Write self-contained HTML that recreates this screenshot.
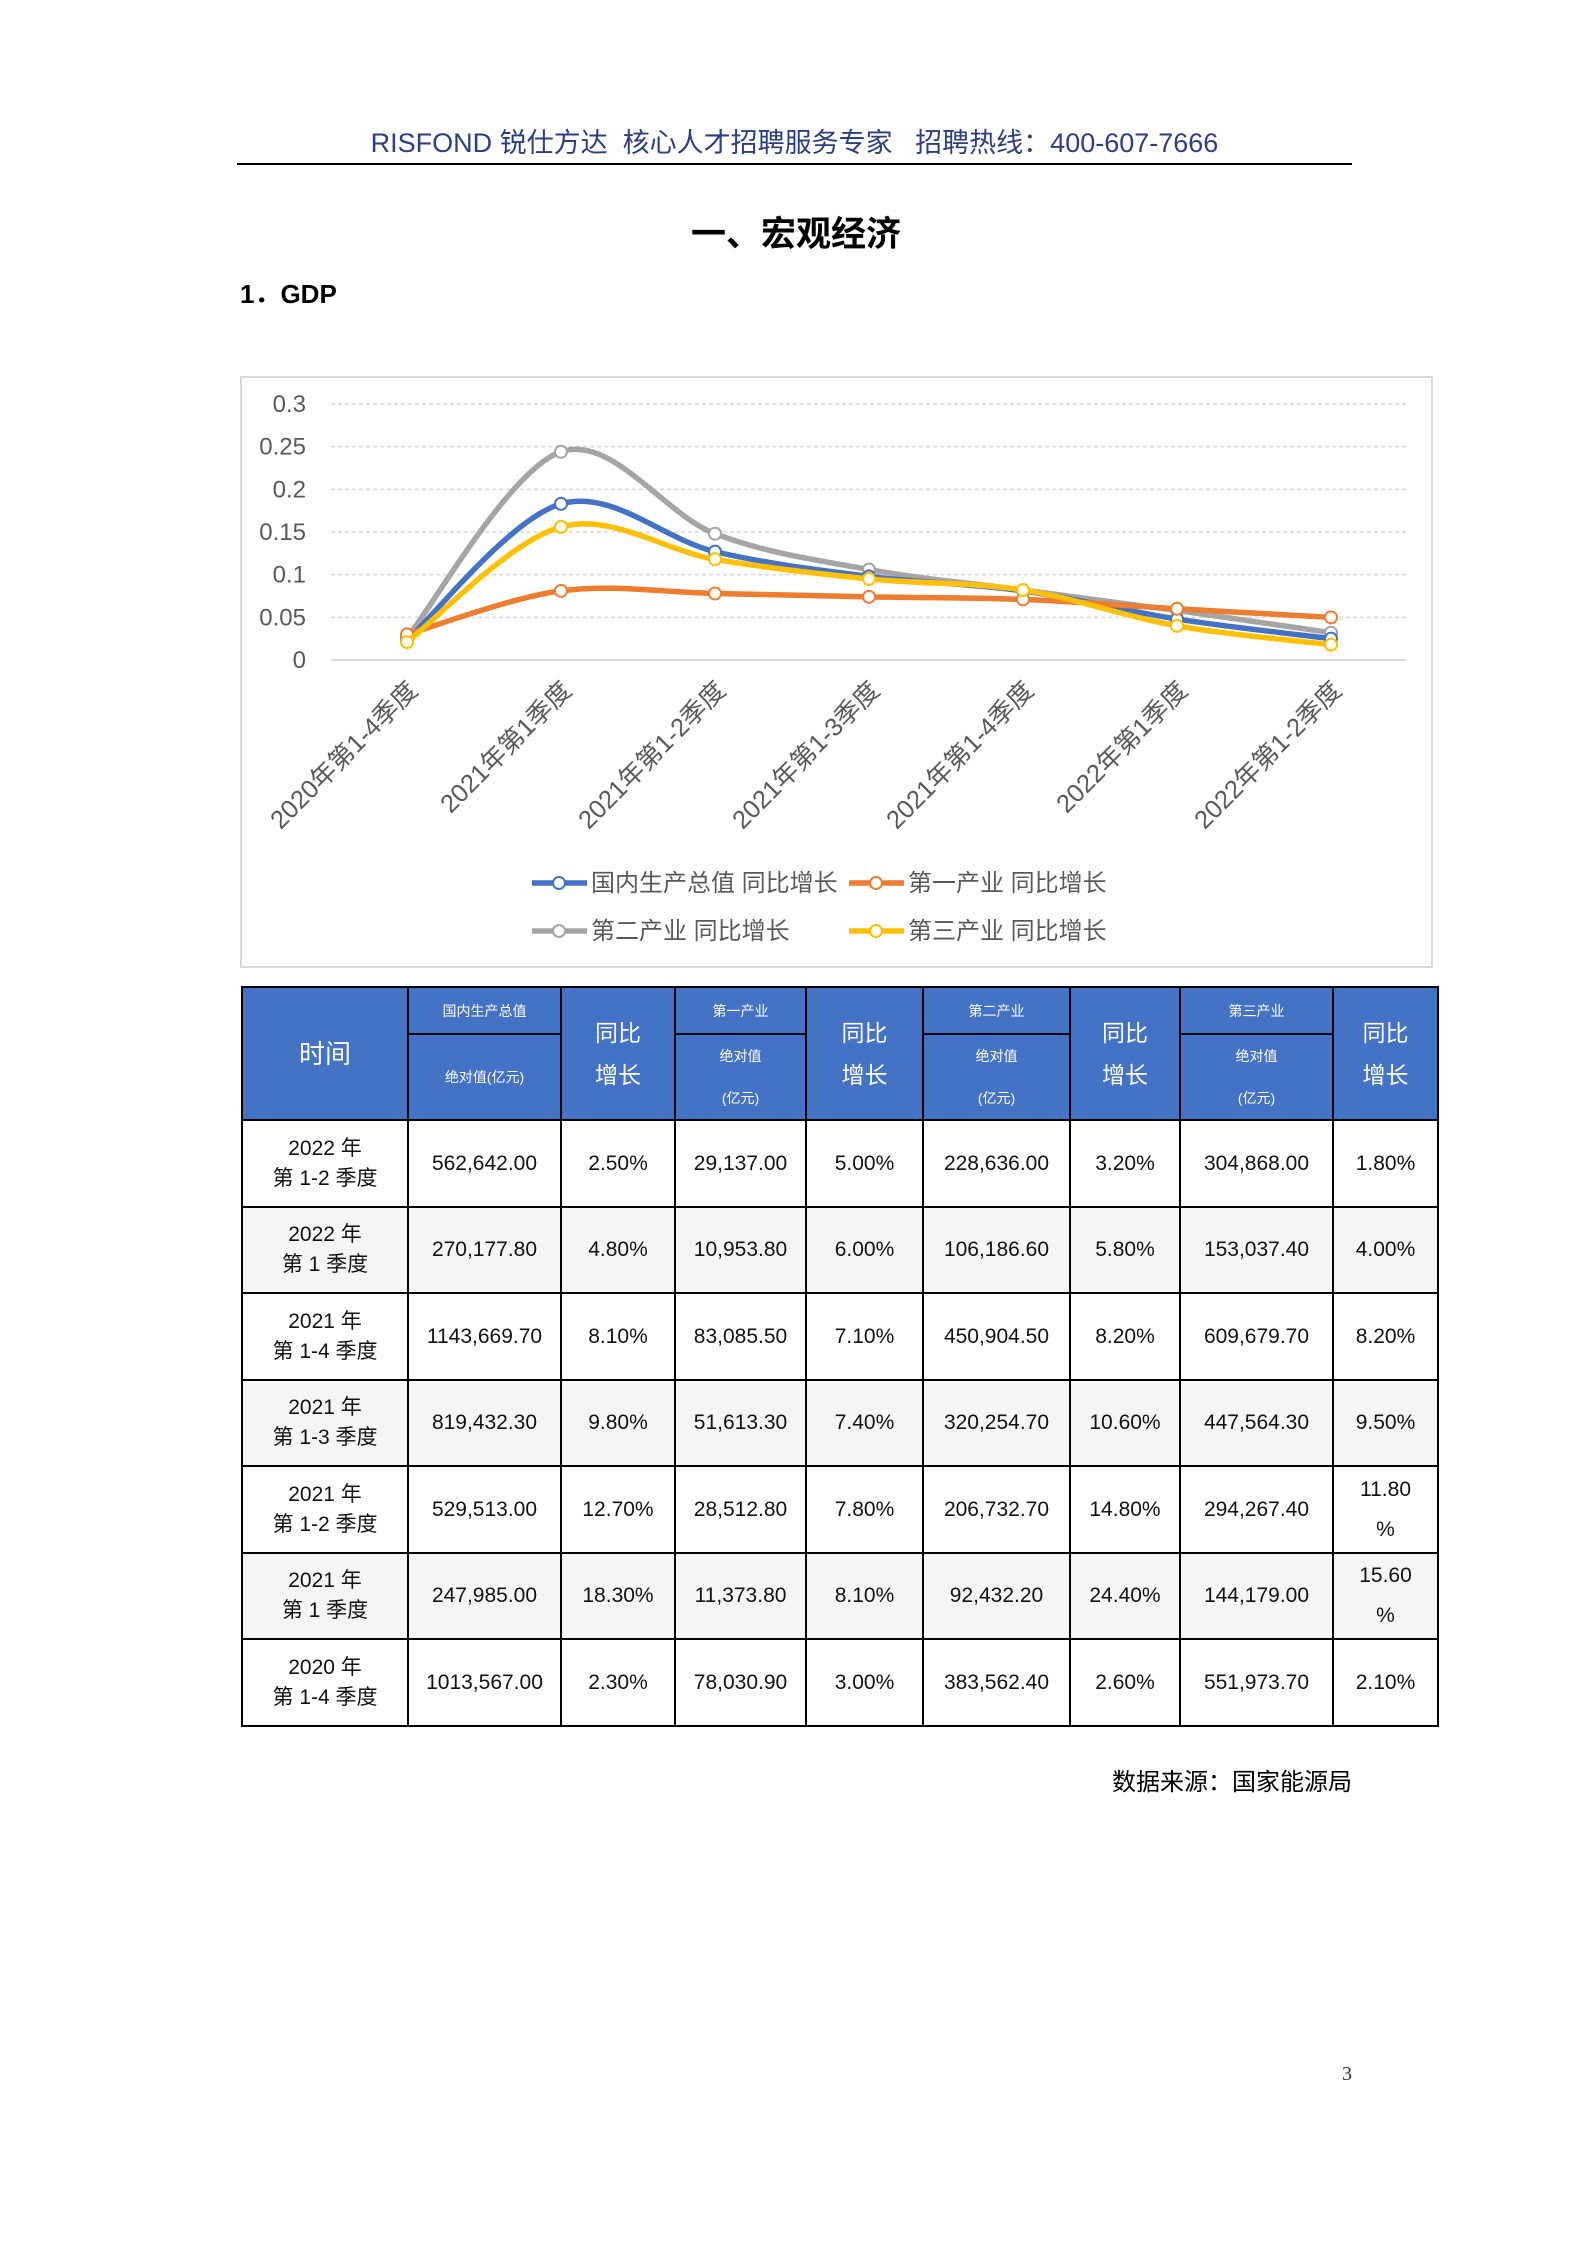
<!DOCTYPE html>
<html><head><meta charset="utf-8">
<style>
body{margin:0;width:1587px;height:2245px;background:#fff;position:relative;font-family:"Liberation Sans","Noto Sans CJK SC",sans-serif;overflow:hidden}
.abs{position:absolute}
table{position:absolute;left:241px;top:986px;border-collapse:collapse;table-layout:fixed}
td{border:2.5px solid #000;text-align:center;vertical-align:middle;font-size:21px;color:#111;padding:0;line-height:30px}
td.h{background:#4472C4;color:#fff;border-color:#000}
td.hs{font-size:14px;line-height:20px}
tr.g td{background:#f5f5f5}
</style></head><body>
<div class="abs" style="left:237px;top:121px;width:1115px;text-align:center;font-size:27px;color:#2c3e80">RISFOND 锐仕方达&nbsp; 核心人才招聘服务专家&nbsp;&nbsp; 招聘热线：400-607-7666</div>
<div class="abs" style="left:237px;top:163px;width:1115px;height:2px;background:#000"></div>
<div class="abs" style="left:596px;top:206px;width:400px;text-align:center;font-size:35px;font-weight:bold;color:#000">一、宏观经济</div>
<div class="abs" style="left:240px;top:274px;font-size:26px;font-weight:bold;color:#000">1．GDP</div>

<svg class="abs" style="left:0;top:0" width="1587" height="1000" id="chart"></svg>

<table>
<colgroup><col style="width:166px"><col style="width:153px"><col style="width:114px"><col style="width:131px"><col style="width:117px"><col style="width:147px"><col style="width:110px"><col style="width:153px"><col style="width:105px"></colgroup>
<tr style="height:47px">
<td class="h" rowspan="2" style="font-size:26px">时间</td>
<td class="h hs">国内生产总值</td>
<td class="h" rowspan="2" style="font-size:23px;line-height:42px">同比<br>增长</td>
<td class="h hs">第一产业</td>
<td class="h" rowspan="2" style="font-size:23px;line-height:42px">同比<br>增长</td>
<td class="h hs">第二产业</td>
<td class="h" rowspan="2" style="font-size:23px;line-height:42px">同比<br>增长</td>
<td class="h hs">第三产业</td>
<td class="h" rowspan="2" style="font-size:23px;line-height:42px">同比<br>增长</td>
</tr>
<tr style="height:84px">
<td class="h hs">绝对值(亿元)</td>
<td class="h hs" style="line-height:42px">绝对值<br>(亿元)</td>
<td class="h hs" style="line-height:42px">绝对值<br>(亿元)</td>
<td class="h hs" style="line-height:42px">绝对值<br>(亿元)</td>
</tr>
<tr style="height:87px"><td>2022 年<br>第 1-2 季度</td><td>562,642.00</td><td>2.50%</td><td>29,137.00</td><td>5.00%</td><td>228,636.00</td><td>3.20%</td><td>304,868.00</td><td>1.80%</td></tr>
<tr class="g" style="height:86px"><td>2022 年<br>第 1 季度</td><td>270,177.80</td><td>4.80%</td><td>10,953.80</td><td>6.00%</td><td>106,186.60</td><td>5.80%</td><td>153,037.40</td><td>4.00%</td></tr>
<tr style="height:87px"><td>2021 年<br>第 1-4 季度</td><td>1143,669.70</td><td>8.10%</td><td>83,085.50</td><td>7.10%</td><td>450,904.50</td><td>8.20%</td><td>609,679.70</td><td>8.20%</td></tr>
<tr class="g" style="height:86px"><td>2021 年<br>第 1-3 季度</td><td>819,432.30</td><td>9.80%</td><td>51,613.30</td><td>7.40%</td><td>320,254.70</td><td>10.60%</td><td>447,564.30</td><td>9.50%</td></tr>
<tr style="height:87px"><td>2021 年<br>第 1-2 季度</td><td>529,513.00</td><td>12.70%</td><td>28,512.80</td><td>7.80%</td><td>206,732.70</td><td>14.80%</td><td>294,267.40</td><td style="line-height:40px">11.80<br>%</td></tr>
<tr class="g" style="height:86px"><td>2021 年<br>第 1 季度</td><td>247,985.00</td><td>18.30%</td><td>11,373.80</td><td>8.10%</td><td>92,432.20</td><td>24.40%</td><td>144,179.00</td><td style="line-height:40px">15.60<br>%</td></tr>
<tr style="height:87px"><td>2020 年<br>第 1-4 季度</td><td>1013,567.00</td><td>2.30%</td><td>78,030.90</td><td>3.00%</td><td>383,562.40</td><td>2.60%</td><td>551,973.70</td><td>2.10%</td></tr>
</table>

<div class="abs" style="left:1000px;top:1762px;width:352px;text-align:right;font-size:24px;color:#000">数据来源：国家能源局</div>
<div class="abs" style="left:1332px;top:2063px;width:30px;text-align:center;font-size:20px;font-family:'Liberation Serif',serif;color:#333">3</div>

<script>
const categories=["2020年第1-4季度","2021年第1季度","2021年第1-2季度","2021年第1-3季度","2021年第1-4季度","2022年第1季度","2022年第1-2季度"];
const gdpGrowth=[0.023,0.183,0.127,0.098,0.081,0.048,0.025];
const primaryGrowth=[0.030,0.081,0.078,0.074,0.071,0.060,0.050];
const secondaryGrowth=[0.026,0.244,0.148,0.106,0.082,0.058,0.032];
const tertiaryGrowth=[0.021,0.156,0.118,0.095,0.082,0.040,0.018];
const yTicks=[0,0.05,0.1,0.15,0.2,0.25,0.3];
const yTickLabels=["0","0.05","0.1","0.15","0.2","0.25","0.3"];
const seriesNames=["国内生产总值 同比增长","第一产业 同比增长","第二产业 同比增长","第三产业 同比增长"];

const NS="http://www.w3.org/2000/svg";
const svg=document.getElementById('chart');
function mk(t,a,p){const e=document.createElementNS(NS,t);for(const k in a)e.setAttribute(k,a[k]);(p||svg).appendChild(e);return e;}
const X0=407,DX=154,Y0=660,Y1=404;
const x=i=>X0+i*DX;
const y=v=>Y0-(v/0.3)*(Y0-Y1);

const frame=mk('rect',{x:241,y:377,width:1191,height:590,fill:'#fff',stroke:'#d9d9d9','stroke-width':2});



yTicks.forEach((t,i)=>{
  const l=mk('line',{x1:331,x2:1406,y1:y(t),y2:y(t),stroke:'#d9d9d9','stroke-width':i===0?2:1.5,'stroke-dasharray':i===0?'':'4,3'});
  
  
  const tx=mk('text',{x:306,y:y(t)+8,'text-anchor':'end','font-size':24,fill:'#595959'});
  tx.textContent=yTickLabels[i];
  
  
});

categories.forEach((c,i)=>{
  const tx=mk('text',{x:x(i)+12,y:692,'text-anchor':'end','font-size':25.5,fill:'#595959',transform:`rotate(-45 ${x(i)+12} 692)`});
  tx.textContent=c;
  
  
});

function smooth(pts){
  let d=`M${pts[0][0]},${pts[0][1]}`;
  for(let i=0;i<pts.length-1;i++){
    const p0=pts[i-1]||pts[i],p1=pts[i],p2=pts[i+1],p3=pts[i+2]||p2;
    const t=1/6;
    d+=` C${p1[0]+(p2[0]-p0[0])*t},${p1[1]+(p2[1]-p0[1])*t} ${p2[0]-(p3[0]-p1[0])*t},${p2[1]-(p3[1]-p1[1])*t} ${p2[0]},${p2[1]}`;
  }
  return d;
}
const seriesData=[gdpGrowth,primaryGrowth,secondaryGrowth,tertiaryGrowth];
const colors=["#4472C4","#ED7D31","#A5A5A5","#FFC000"];
const order=[2,0,1,3];
order.forEach(s=>{
  const pts=seriesData[s].map((v,i)=>[x(i),y(v)]);
  const p=mk('path',{d:smooth(pts),fill:'none',stroke:colors[s],'stroke-width':5.5,'stroke-linecap':'round'});
  
  
  pts.forEach(pt=>{
    const c=mk('circle',{cx:pt[0],cy:pt[1],r:6,fill:'#fff',stroke:colors[s],'stroke-width':2});
    
    
  });
});

const legPos=[[532,883],[849,883],[532,931],[849,931]];
seriesNames.forEach((n,i)=>{
  const [lx,ly]=legPos[i];
  const l=mk('line',{x1:lx,x2:lx+55,y1:ly,y2:ly,stroke:colors[i],'stroke-width':5.5});
  
  
  const c=mk('circle',{cx:lx+27,cy:ly,r:6,fill:'#fff',stroke:colors[i],'stroke-width':2});
  
  
  const t=mk('text',{x:lx+59,y:ly+8,'font-size':24,fill:'#595959'});
  t.textContent=n;
  
  
});
</script>
</body></html>
